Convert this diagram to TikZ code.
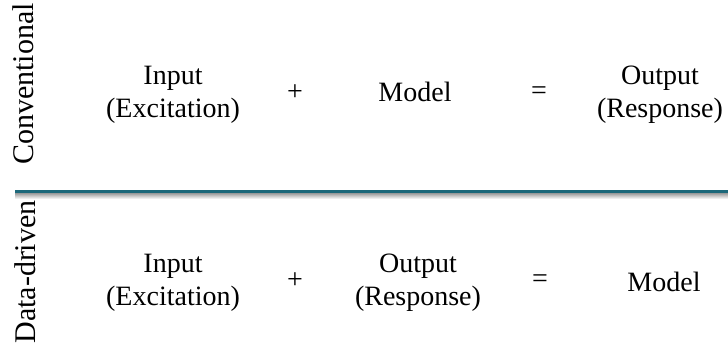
\documentclass[tikz,border=0pt]{standalone}
\usepackage{fontspec}
\setmainfont{Liberation Serif}
\usetikzlibrary{positioning}
\definecolor{dividerTeal}{RGB}{28,104,122}
\colorlet{shadowGray}{black!40}
\tikzset{
    term/.style={font=\fontsize{28}{33}\selectfont, align=center, inner sep=0pt},
    sign/.style={font=\fontsize{28}{33}\selectfont, inner sep=0pt},
    rowlabel/.style={font=\fontsize{30}{36}\selectfont, rotate=90, anchor=base, inner sep=0pt}
}

\begin{document}
\begin{tikzpicture}[x=1pt,y=-1pt]
    \useasboundingbox (0,0) rectangle (728,344);

    % Row labels on the left
    \node[rowlabel] (convLabel) at (33,84) {Conventional};
    \node[rowlabel] (dataLabel) at (35,272) {Data-driven};

    % Divider between the two rows, with a soft shadow
    \coordinate (divLeft) at (15,191.5);
    \coordinate (divRight) at (728,191.5);
    \shade[top color=shadowGray, bottom color=white] (15,193) rectangle (728,199);
    \draw[dividerTeal, line width=2.7pt] (divLeft) -- (divRight);

    % Conventional: input + model = output
    \node[term] (convInput) at (173,95) {Input\\(Excitation)};
    \node[sign] (convPlus) at (295,93) {+};
    \node[term] (convModel) at (415,92) {Model};
    \node[sign] (convEq) at (539,93) {=};
    \node[term] (convOutput) at (660,95) {Output\\(Response)};

    % Data-driven: input + output = model
    \node[term] (dataInput) at (173,282.5) {Input\\(Excitation)};
    \node[sign] (dataPlus) at (295,281) {+};
    \node[term] (dataOutput) at (418,282.5) {Output\\(Response)};
    \node[sign] (dataEq) at (540,281) {=};
    \node[term] (dataModel) at (664,281.5) {Model};
\end{tikzpicture}
\end{document}
